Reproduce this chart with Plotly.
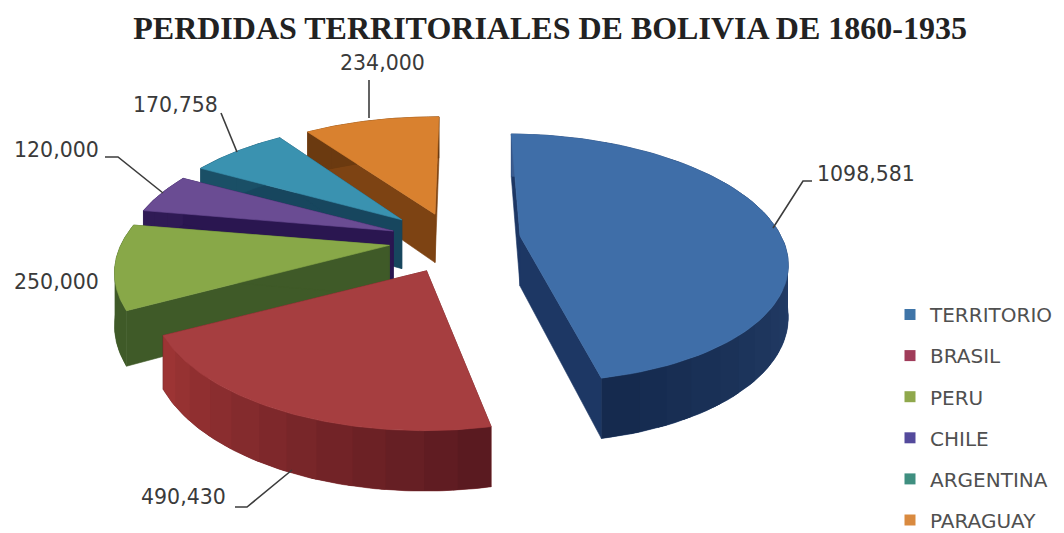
import numpy as np
import plotly.graph_objects as go

categories = ["TERRITORIO", "BRASIL", "PERU", "CHILE", "ARGENTINA", "PARAGUAY"]
values = [1098581, 490430, 250000, 120000, 170758, 234000]
value_labels = ["1098,581", "490,430", "250,000", "120,000", "170,758", "234,000"]

top_colors = ["#3f6ea8", "#a63e40", "#88a848", "#6a4c93", "#3a92b0", "#d9812f"]
legend_colors = ["#3f75a8", "#a03c5a", "#8fa84c", "#544a9c", "#3f8f80", "#d98a3f"]
wall_start = ["#3a5c90", "#5a1a20", "#3f5a28", "#2f1a55", "#1a4f66", "#6b3a10"]
wall_end = ["#152a4e", "#9c3434", "#3f5a28", "#2f1a55", "#1a4f66", "#6b3a10"]
radial_colors = ["#1d3764", "#6b2024", "#3f5a28", "#2a1650", "#17465e", "#7d4313"]
offset_x = [84, -9, -46, -43, -35, -1]
offset_y = [0, 72, 20, -11, -36, -49]
radius_scale = [0.985, 0.97, 1.0, 1.0, 0.98, 1.0]
slice_rot = [0, 0, -1.5, -1, 0, 0]
depth = [50, 47, 50, 50, 50, 50]

R, D, K = 265.0, 1480.0, 0.46
VX, CY = 436.0, 236.0
START = 1.0


def proj(X, Y, Z=0.0):
    s = D / (D - Y)
    return VX + X * s, CY + Y * K * s - Z * s


def hex_mix(a, b, t):
    ca = [int(a[i:i + 2], 16) for i in (1, 3, 5)]
    cb = [int(b[i:i + 2], 16) for i in (1, 3, 5)]
    return "#" + "".join(f"{round(p + (q - p) * t):02x}" for p, q in zip(ca, cb))


fig = go.Figure()


def poly(xs, ys, color, width=0.0):
    fig.add_trace(go.Scatter(x=list(xs), y=list(ys), mode="lines", fill="toself",
                             fillcolor=color, line=dict(color=color, width=width),
                             hoverinfo="skip", showlegend=False))


total = sum(values)
shares = np.array(values) / total * 360.0
starts = START + np.concatenate([[0], np.cumsum(shares)[:-1]])
draw_order = [5, 4, 3, 2, 1, 0]
for i in draw_order:
    a0, a1 = starts[i] + slice_rot[i], starts[i] + shares[i] + slice_rot[i]
    ex, ey = offset_x[i], offset_y[i]
    H = depth[i]
    th = np.radians(np.linspace(a0, a1, 90))
    r = R * radius_scale[i]
    X, Y = ex + r * np.sin(th), ey - r * np.cos(th)
    for j in (0, -1):
        xa, ya = proj(ex, ey, 0)
        xb, yb = proj(X[j], Y[j], 0)
        xc, yc = proj(X[j], Y[j], -H)
        xd, yd = proj(ex, ey, -H)
        poly([xa, xb, xc, xd, xa], [ya, yb, yc, yd, ya], radial_colors[i], 0.6)
    xt, yt = proj(X, Y, 0)
    xb, yb = proj(X, Y, -H)
    poly(np.r_[xt, xb[::-1]], np.r_[yt, yb[::-1]], hex_mix(wall_start[i], wall_end[i], 0.5), 0.6)
    n = max(3, int(shares[i] / 6))
    ed = np.linspace(0, len(th) - 1, n + 1).astype(int)
    for k in range(n):
        idx = np.arange(ed[k], min(ed[k + 1] + 2, len(th)))
        xt, yt = proj(X[idx], Y[idx], 0)
        xb, yb = proj(X[idx], Y[idx], -H)
        poly(np.r_[xt, xb[::-1]], np.r_[yt, yb[::-1]],
             hex_mix(wall_start[i], wall_end[i], k / max(n - 1, 1)))
    xt, yt = proj(X, Y, 0)
    xa, ya = proj(ex, ey, 0)
    poly(np.r_[xa, xt, xa], np.r_[ya, yt, ya], top_colors[i], 0.6)

for i, name in enumerate(categories):
    fig.add_trace(go.Scatter(x=[None], y=[None], mode="markers", name=name, legendgroup=name,
                             marker=dict(symbol="square", size=11, color=legend_colors[i])))

label_pos = [(815, 174), (139, 497), (12, 282), (12, 150), (131, 105), (338, 63)]
for txt, (x, y) in zip(value_labels, label_pos):
    fig.add_annotation(x=x, y=y, text=txt, showarrow=False, xanchor="left", yanchor="middle",
                       font=dict(family="DejaVu Sans", size=20.5, color="#3a3a3a"))

leaders = [[(773, 228), (803, 181), (812, 181)], [(292, 470), (247, 507), (235, 507)],
           [(163, 193), (118, 157), (105, 157)], [(237, 152), (221, 113)], [(369, 118), (369, 80)]]
for pts in leaders:
    fig.add_trace(go.Scatter(x=[p[0] for p in pts], y=[p[1] for p in pts], mode="lines",
                             line=dict(color="#3c3c3c", width=1.6), hoverinfo="skip", showlegend=False))

fig.update_layout(
    width=1064, height=533, margin=dict(l=0, r=0, t=0, b=0, autoexpand=False),
    paper_bgcolor="white", plot_bgcolor="white",
    xaxis=dict(range=[0, 1064], visible=False, domain=[0, 1]),
    yaxis=dict(range=[533, 0], visible=False, domain=[0, 1]),
    title=dict(text="<b>PERDIDAS TERRITORIALES DE BOLIVIA DE 1860-1935</b>", x=0.517, xanchor="center",
               y=0.948, yanchor="middle", font=dict(family="Liberation Serif", size=32, color="#222222")),
    legend=dict(x=890 / 1064, xanchor="left", y=1 - 295 / 533, yanchor="top", tracegroupgap=12.1,
                bgcolor="rgba(0,0,0,0)", font=dict(family="DejaVu Sans", size=20, color="#505050"), itemwidth=30),
    showlegend=True,
)
fig.write_html("out.html", post_script="document.body.style.margin='0';", config={"displayModeBar": False})
